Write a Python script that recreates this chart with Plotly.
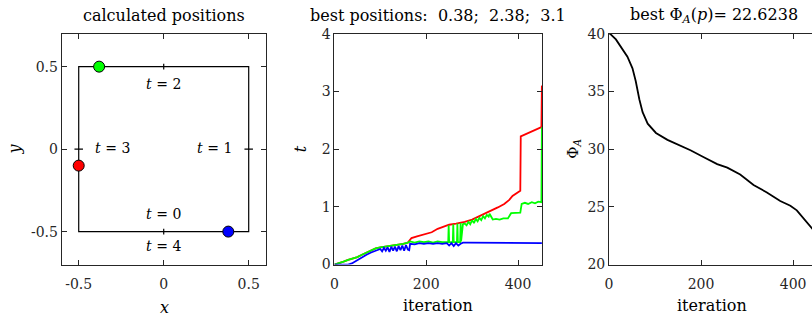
import plotly.graph_objects as go

# ---------------- data ----------------
# left panel: path (unit square, perimeter parameter t in [0,4])
path_x = [0, 0.5, 0.5, -0.5, -0.5, 0]
path_y = [-0.5, -0.5, 0.5, 0.5, -0.5, -0.5]
best_t = [0.38, 2.38, 3.1]
pos_x = [0.38, -0.38, -0.5]
pos_y = [-0.5, 0.5, -0.1]
pos_colors = ["#0000ff", "#00ff00", "#ff0000"]
t_marks = [0, 1, 2, 3]
label_text = ["t = 0", "t = 1", "t = 2", "t = 3", "t = 4"]
label_x = [0, 0.3, 0, -0.3, 0]
label_y = [-0.4, 0, 0.385, 0, -0.595]

# middle panel: best positions per iteration
red_it = [0, 10, 20, 30, 40, 50, 60, 70, 80, 90, 100, 110, 120, 130, 140, 150, 160,
          163, 168, 180, 200, 212, 225, 240, 250, 265, 284, 300, 320, 340, 356, 370,
          381, 388, 395, 405, 406, 420, 435, 451, 452]
red_t = [0, 0.02, 0.05, 0.08, 0.10, 0.13, 0.17, 0.21, 0.25, 0.28, 0.30, 0.31, 0.32,
         0.33, 0.35, 0.36, 0.38, 0.41, 0.46, 0.49, 0.53, 0.56, 0.62, 0.67, 0.69, 0.71,
         0.74, 0.78, 0.85, 0.92, 0.99, 1.05, 1.12, 1.19, 1.23, 1.28, 2.22, 2.27, 2.32,
         2.38, 3.10]

green_it = [0, 10, 20, 30, 40, 50, 60, 70, 80, 90, 100, 110, 120, 130, 140, 150, 160,
            165, 175, 185, 195, 205, 215, 225, 235, 245, 248, 249, 250, 258, 259, 260,
            267, 268, 269, 274, 275, 276, 280, 284, 288, 292, 296, 300, 304, 308, 312,
            316, 320, 324, 328, 332, 336, 338, 345, 352, 360, 368, 378, 385, 395, 405,
            408, 415, 422, 430, 437, 444, 451, 452]
green_t = [0, 0.02, 0.05, 0.08, 0.10, 0.13, 0.17, 0.21, 0.25, 0.28, 0.30, 0.31, 0.32,
           0.33, 0.34, 0.36, 0.38, 0.40, 0.38, 0.40, 0.39, 0.40, 0.38, 0.40, 0.39, 0.40,
           0.39, 0.68, 0.39, 0.39, 0.70, 0.39, 0.39, 0.71, 0.39, 0.39, 0.72, 0.40, 0.70,
           0.71, 0.68, 0.74, 0.70, 0.77, 0.72, 0.79, 0.75, 0.81, 0.77, 0.84, 0.80, 0.86,
           0.83, 0.88, 0.78, 0.79, 0.78, 0.80, 0.80, 0.89, 0.90, 0.90, 1.05, 1.07, 1.05,
           1.08, 1.06, 1.09, 1.08, 2.38]

blue_it = [0, 10, 20, 30, 38, 50, 60, 70, 80, 90, 100, 104, 108, 112, 116, 120, 124,
           128, 132, 136, 140, 144, 148, 152, 156, 160, 163, 165, 175, 185, 195, 205,
           215, 225, 235, 245, 250, 255, 260, 265, 270, 275, 280, 290, 320, 360, 398,
           400, 452]
blue_t = [0, 0.0, 0.01, 0.0, 0.02, 0.08, 0.13, 0.17, 0.21, 0.24, 0.27, 0.23, 0.29,
          0.24, 0.30, 0.22, 0.31, 0.24, 0.31, 0.23, 0.32, 0.25, 0.33, 0.24, 0.34, 0.26,
          0.25, 0.36, 0.35, 0.37, 0.36, 0.37, 0.36, 0.37, 0.36, 0.37, 0.33, 0.37, 0.32,
          0.37, 0.33, 0.36, 0.38, 0.38, 0.38, 0.38, 0.38, 0.37, 0.37]

# right panel: best Phi_A per iteration
phi_it = [0, 2, 15, 29, 40, 51, 58, 66, 73, 84, 102, 127, 156, 177, 206, 235, 257,
          285, 314, 343, 372, 394, 408, 422, 441, 452]
phi_val = [40.0, 40.0, 39.5, 38.7, 38.0, 37.0, 35.9, 34.3, 33.2, 32.2, 31.4, 30.8,
           30.3, 29.9, 29.3, 28.7, 28.4, 27.8, 26.9, 26.25, 25.5, 25.1, 24.7, 24.0,
           23.15, 22.62]

# ---------------- figure ----------------
W, H = 812, 322
FONT = "DejaVu Serif, Liberation Serif, serif"
AX = "#262626"

def px(x):
    return x / W

def py(y):
    return 1 - y / H

fig = go.Figure()

# left panel
fig.add_trace(go.Scatter(x=path_x, y=path_y, mode="lines",
                         line=dict(color="black", width=1.2),
                         xaxis="x", yaxis="y", showlegend=False, hoverinfo="skip"))
# small marks on the path at integer t
mx, my = [], []
for t in t_marks:
    if t == 0:
        cx, cy, dx, dy = 0, -0.5, 0, 0.018
    elif t == 1:
        cx, cy, dx, dy = 0.5, 0, 0.025, 0
    elif t == 2:
        cx, cy, dx, dy = 0, 0.5, 0, 0.018
    else:
        cx, cy, dx, dy = -0.5, 0, 0.025, 0
    mx += [cx - dx, cx + dx, None]
    my += [cy - dy, cy + dy, None]
fig.add_trace(go.Scatter(x=mx, y=my, mode="lines", line=dict(color="black", width=1.2),
                         xaxis="x", yaxis="y", showlegend=False, hoverinfo="skip"))
fig.add_trace(go.Scatter(x=pos_x, y=pos_y, mode="markers",
                         marker=dict(size=11, color=pos_colors,
                                     line=dict(color="black", width=1)),
                         xaxis="x", yaxis="y", showlegend=False))
fig.add_trace(go.Scatter(x=label_x, y=label_y, mode="text",
                         text=[s.replace("t", "<i>t</i>", 1) for s in label_text],
                         textfont=dict(family=FONT, size=14, color="black"),
                         xaxis="x", yaxis="y", showlegend=False, hoverinfo="skip"))

# middle panel
for it, tv, col in [(red_it, red_t, "#ff0000"), (green_it, green_t, "#00ff00"),
                    (blue_it, blue_t, "#0000ff")]:
    fig.add_trace(go.Scatter(x=it, y=tv, mode="lines", line=dict(color=col, width=1.8),
                             xaxis="x2", yaxis="y2", showlegend=False, cliponaxis=False))

# right panel
fig.add_trace(go.Scatter(x=phi_it, y=phi_val, mode="lines",
                         line=dict(color="black", width=1.8),
                         xaxis="x3", yaxis="y3", showlegend=False))

ydom = [py(270), py(27)]
common = dict(showgrid=False, zeroline=False, showline=True, linecolor=AX, linewidth=1,
              ticks="inside", ticklen=5, tickcolor=AX, tickwidth=1,
              tickfont=dict(family=FONT, size=14, color=AX))
xextra = dict(ticklabelstandoff=7)

fig.update_layout(
    width=W, height=H, margin=dict(l=0, r=0, t=0, b=0),
    paper_bgcolor="white", plot_bgcolor="white",
    xaxis=dict(domain=[px(58), px(263)], range=[-0.6, 0.6], mirror="ticks",
               tickvals=[-0.5, 0, 0.5], ticktext=["-0.5", "0", "0.5"], **common, **xextra),
    yaxis=dict(domain=ydom, range=[-0.7, 0.7], mirror="ticks", anchor="x",
               tickvals=[-0.5, 0, 0.5], ticktext=["-0.5", "0", "0.5"], **common),
    xaxis2=dict(domain=[px(332), px(541)], range=[0, 453], mirror="ticks", anchor="y2",
                tickvals=[0, 200, 400], **common, **xextra),
    yaxis2=dict(domain=ydom, range=[0, 4], mirror="ticks", anchor="x2",
                tickvals=[0, 1, 2, 3, 4], **common),
    xaxis3=dict(domain=[px(608), 1.0], range=[0, 441], mirror="ticks", anchor="y3",
                tickvals=[0, 200, 400], **common, **xextra),
    yaxis3=dict(domain=ydom, range=[20, 40], mirror=False, anchor="x3",
                tickvals=[20, 25, 30, 35, 40], **common),
)

ann = [
    dict(text="calculated positions", x=px(161), y=py(8), size=16, angle=0),
    dict(text="best positions:  0.38;  2.38;  3.1", x=px(436), y=py(8), size=16, angle=0),
    dict(text="best Φ<sub><i>A</i></sub>(<i>p</i>)= 22.6238", x=px(714), y=py(8), size=16, angle=0),
    dict(text="<i>x</i>", x=px(161), y=py(315), size=16, angle=0),
    dict(text="iteration", x=px(436), y=py(313), size=16, angle=0),
    dict(text="iteration", x=px(712), y=py(313), size=16, angle=0),
    dict(text="<i>y</i>", x=px(11), y=py(148), size=16, angle=-90),
    dict(text="<i>t</i>", x=px(298), y=py(148), size=16, angle=-90),
    dict(text="Φ<sub><i>A</i></sub>", x=px(572), y=py(148), size=15, angle=-90),
]
for a in ann:
    fig.add_annotation(text=a["text"], x=a["x"], y=a["y"], xref="paper", yref="paper",
                       showarrow=False, textangle=a["angle"],
                       font=dict(family=FONT, size=a["size"], color="black"),
                       xanchor="center", yanchor="middle")

fig.write_html("out.html")
